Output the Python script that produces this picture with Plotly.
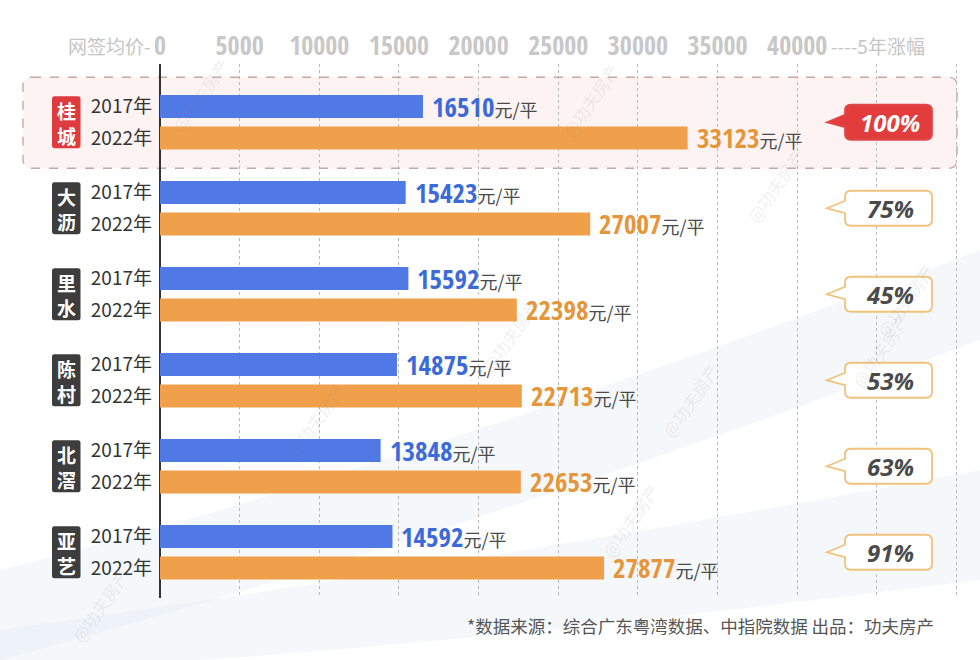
import plotly.graph_objects as go

# ---------------- data ----------------
areas = ["桂城", "大沥", "里水", "陈村", "北滘", "亚艺"]
price_2017 = [16510, 15423, 15592, 14875, 13848, 14592]
price_2022 = [33123, 27007, 22398, 22713, 22653, 27877]
growth_labels = ["100%", "75%", "45%", "53%", "63%", "91%"]
year_labels = ["2017年", "2022年"]
x_tick_vals = [0, 5000, 10000, 15000, 20000, 25000, 30000, 35000, 40000, 45000, 50000]
x_tick_text = ["0", "5000", "10000", "15000", "20000", "25000", "30000", "35000", "40000", "", ""]
highlight_area = "桂城"
unit_text = "元/平"
left_axis_title = "网签均价-"
right_axis_title = "----5年涨幅"
source_text = "*数据来源：综合广东粤湾数据、中指院数据 出品：功夫房产"
watermark = "@功夫房产"

# ---------------- layout geometry (pixels) ----------------
FW, FH = 980, 660
L, T = 160, 64
B = 598
PW = FW - L
PH = B - T
PX_PER_UNIT = 0.01593
XMAX = PW / PX_PER_UNIT
GROUP_PX = 86.0
C0 = 122.25
OFF = 0.183
BW = 0.27
Y_TOP = (T - C0) / GROUP_PX
Y_BOT = (B - C0) / GROUP_PX

COND = "Open Sans Condensed, Roboto Condensed, DejaVu Sans Condensed, sans-serif"
CJK = "Noto Sans CJK SC, sans-serif"


def px(xp):
    return (xp - L) / PW


def py(yp):
    return (B - yp) / PH


def P(xp, yp):
    return f"{px(xp):.5f},{py(yp):.5f}"


def rrect(x0, y0, x1, y1, r):
    return (f"M{P(x0 + r, y0)} L{P(x1 - r, y0)} Q{P(x1, y0)} {P(x1, y0 + r)} "
            f"L{P(x1, y1 - r)} Q{P(x1, y1)} {P(x1 - r, y1)} L{P(x0 + r, y1)} "
            f"Q{P(x0, y1)} {P(x0, y1 - r)} L{P(x0, y0 + r)} Q{P(x0, y0)} {P(x0 + r, y0)} Z")


def callout(x0, y0, x1, y1, r, tip_x, cy):
    return (f"M{P(x0 + r, y0)} L{P(x1 - r, y0)} Q{P(x1, y0)} {P(x1, y0 + r)} "
            f"L{P(x1, y1 - r)} Q{P(x1, y1)} {P(x1 - r, y1)} L{P(x0 + r, y1)} "
            f"Q{P(x0, y1)} {P(x0, y1 - r)} L{P(x0, cy + 5)} L{P(tip_x, cy)} "
            f"L{P(x0, cy - 7.5)} L{P(x0, y0 + r)} Q{P(x0, y0)} {P(x0 + r, y0)} Z")


n = len(areas)
y17 = [i - OFF for i in range(n)]
y22 = [i + OFF for i in range(n)]

fig = go.Figure()
fig.add_trace(go.Bar(
    y=y17, x=price_2017, orientation="h", width=BW, name=year_labels[0],
    marker=dict(color="#5079e6", line=dict(width=0)),
    hovertemplate="%{x}<extra></extra>",
))
fig.add_trace(go.Bar(
    y=y22, x=price_2022, orientation="h", width=BW, name=year_labels[1],
    marker=dict(color="#f0a04a", line=dict(width=0)),
    hovertemplate="%{x}<extra></extra>",
))

shapes = []
annotations = []

# faint background brush strokes
shapes.append(dict(type="path", xref="paper", yref="paper", layer="below",
                   path=f"M{P(0, 570)} Q{P(400, 470)} {P(980, 250)} L{P(980, 340)} "
                        f"Q{P(450, 540)} {P(0, 660)} Z",
                   fillcolor="rgba(208,221,238,0.22)", line=dict(width=0)))
shapes.append(dict(type="path", xref="paper", yref="paper", layer="below",
                   path=f"M{P(0, 630)} Q{P(500, 560)} {P(980, 470)} L{P(980, 580)} "
                        f"Q{P(500, 640)} {P(200, 660)} L{P(0, 660)} Z",
                   fillcolor="rgba(215,226,240,0.25)", line=dict(width=0)))

# highlight box for the first area
hi = areas.index(highlight_area)
hc = C0 + GROUP_PX * hi
shapes.append(dict(type="path", xref="paper", yref="paper", layer="below",
                   path=rrect(23, hc - 45, 957, hc + 46, 9),
                   fillcolor="#fdf3f2", line=dict(color="#c9a7a2", width=1.4, dash="dash")))

# group label boxes + growth callouts
for i, a in enumerate(areas):
    c = C0 + GROUP_PX * i
    is_hi = a == highlight_area
    shapes.append(dict(type="path", xref="paper", yref="paper", layer="above",
                       path=rrect(52, c - 26, 80.5, c + 26, 2.5),
                       fillcolor="#dd3b3e" if is_hi else "#3d3d3d", line=dict(width=0)))
    annotations.append(dict(xref="paper", yref="paper", x=px(66.3), y=py(c + 1),
                            text=f"{a[0]}<br>{a[1]}", showarrow=False,
                            xanchor="center", yanchor="middle",
                            font=dict(family=CJK, size=19, color="white", weight="bold")))
    shapes.append(dict(type="path", xref="paper", yref="paper", layer="above",
                       path=callout(845, c - 17.5, 932, c + 17.5, 6, 827, c),
                       fillcolor="#e23c3d" if is_hi else "white",
                       line=dict(color="#e0474a" if is_hi else "#f0c27c", width=1.8)))
    annotations.append(dict(xref="paper", yref="paper", x=px(890), y=py(c),
                            text=f"<i><b>{growth_labels[i]}</b></i>", showarrow=False,
                            xanchor="center", yanchor="middle",
                            font=dict(family="Open Sans, Noto Sans, sans-serif", size=24,
                                      color="white" if is_hi else "#4a4a4a")))

# value labels
for vals, ys, col in ((price_2017, y17, "#3d6ad9"), (price_2022, y22, "#e5953a")):
    for v, yv in zip(vals, ys):
        annotations.append(dict(
            x=v, y=yv, xref="x", yref="y", showarrow=False, xanchor="left", yanchor="middle",
            xshift=7, yshift=0,
            text=(f"<b>{v}</b><span style='font-family:Noto Sans CJK SC;font-size:18px;"
                  f"color:#4a4a4a;font-weight:normal'>{unit_text}</span>"),
            font=dict(family=COND, size=27, color=col),
        ))

# axis side titles
annotations.append(dict(xref="paper", yref="paper", x=px(153), y=py(45), xanchor="right",
                        yanchor="middle", showarrow=False, text=left_axis_title,
                        font=dict(family=CJK, size=19, color="#c6c6c6")))
annotations.append(dict(xref="paper", yref="paper", x=px(829), y=py(45), xanchor="left",
                        yanchor="middle", showarrow=False, text=right_axis_title,
                        font=dict(family=CJK, size=19, color="#c6c6c6")))

# source
annotations.append(dict(xref="paper", yref="paper", x=px(936), y=py(625), xanchor="right",
                        yanchor="middle", showarrow=False, text=source_text,
                        font=dict(family=CJK, size=17.5, color="#555555")))

# watermarks
for wx, wy in [(200, 95), (590, 100), (775, 185), (905, 300), (510, 335), (880, 350),
               (315, 420), (690, 400), (630, 520), (100, 605)]:
    annotations.append(dict(xref="paper", yref="paper", x=px(wx), y=py(wy), showarrow=False,
                            xanchor="center", yanchor="middle", text=watermark, textangle=-55,
                            font=dict(family=CJK, size=17, color="rgba(140,140,140,0.15)")))

fig.update_layout(
    width=FW, height=FH,
    margin=dict(l=L, r=0, t=T, b=FH - B, pad=0),
    paper_bgcolor="white", plot_bgcolor="rgba(0,0,0,0)",
    barmode="overlay", showlegend=False,
    shapes=shapes, annotations=annotations,
    xaxis=dict(range=[0, XMAX], side="top", tickvals=x_tick_vals, ticktext=x_tick_text,
               showgrid=True, gridcolor="#b8b8b8", griddash="dot", gridwidth=1,
               zeroline=True, zerolinecolor="#333333", zerolinewidth=2,
               showline=False, ticks="", ticklabelstandoff=3,
               tickfont=dict(family=COND, size=26, color="#c8c8c8", weight="bold"),
               fixedrange=True),
    yaxis=dict(range=[Y_BOT, Y_TOP], tickvals=y17 + y22,
               ticktext=[year_labels[0]] * n + [year_labels[1]] * n,
               showgrid=False, zeroline=False, showline=False, ticks="",
               ticklabelstandoff=7,
               tickfont=dict(family=CJK, size=19, color="#333333"), fixedrange=True),
)

fig.write_html("out.html", config={"displayModeBar": False},
               post_script="document.body.style.margin='0';")
